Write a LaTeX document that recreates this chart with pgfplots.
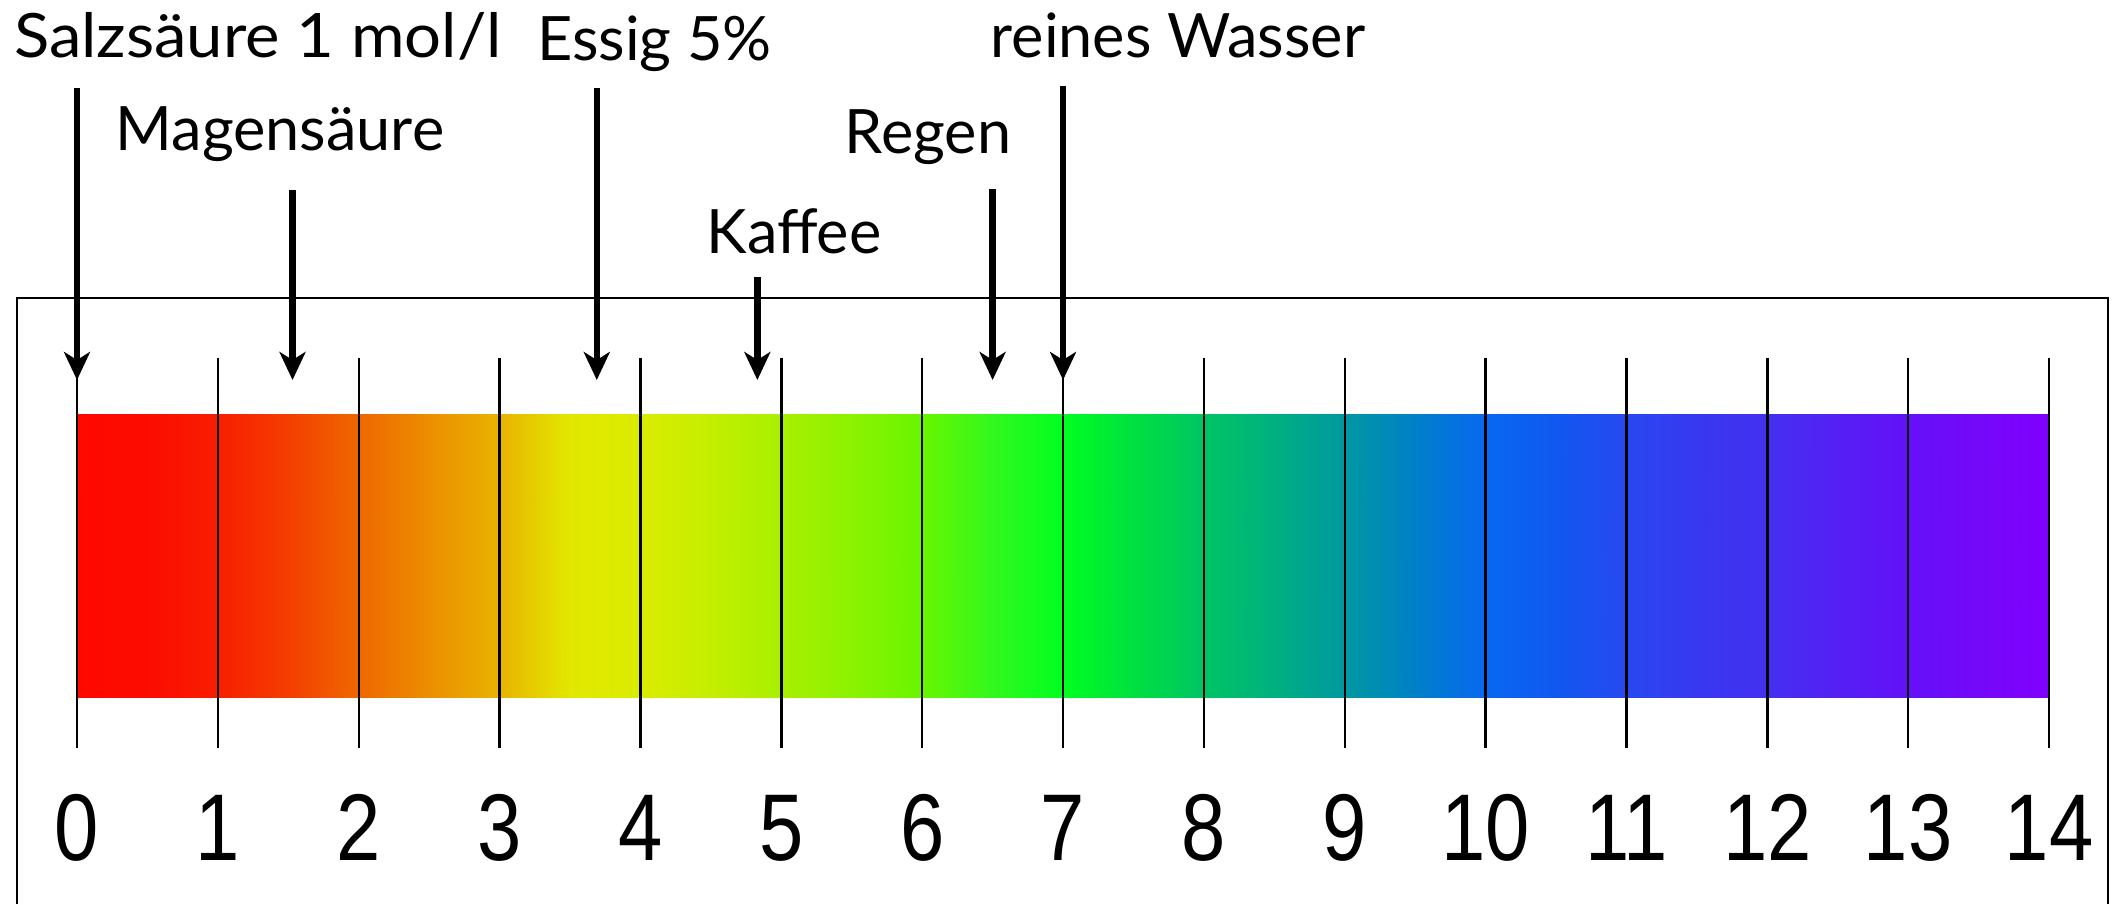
\documentclass[border=0pt]{standalone}
\usepackage{pgfplots}
\pgfplotsset{compat=1.18}
\usepackage{fontspec}
\setmainfont{Lato}
\newfontfamily\numfont{Liberation Sans}
\usetikzlibrary{arrows.meta}
\tikzset{
  lbl/.style={anchor=base, inner sep=0pt, font=\fontsize{15.3}{18}\selectfont},
  num/.style={anchor=base, inner sep=0pt, font=\numfont\fontsize{23.7}{28}\selectfont},
}

\begin{document}
\begin{tikzpicture}
\begin{axis}[
  hide axis, scale only axis,
  width=529pt, height=226pt,
  xmin=-0.5467, xmax=14.4755, ymin=0, ymax=904,
  clip=false,
  colormap={ph}{
    rgb255=(255,8,0) rgb255=(252,12,0) rgb255=(248,30,0) rgb255=(244,62,0)
    rgb255=(238,104,0) rgb255=(236,142,0) rgb255=(232,180,0) rgb255=(226,232,0)
    rgb255=(218,236,0) rgb255=(196,238,0) rgb255=(168,240,0) rgb255=(140,242,0)
    rgb255=(104,246,0) rgb255=(50,248,30) rgb255=(0,255,32) rgb255=(0,224,64)
    rgb255=(0,196,100) rgb255=(0,176,128) rgb255=(0,152,160) rgb255=(0,128,200)
    rgb255=(8,104,240) rgb255=(16,88,240) rgb255=(40,72,240) rgb255=(56,56,240)
    rgb255=(68,48,240) rgb255=(84,32,244) rgb255=(100,16,248) rgb255=(116,8,248)
    rgb255=(128,0,255)},
  point meta min=0, point meta max=14,
]
\coordinate (bl) at (rel axis cs:0,0);
\coordinate (tr) at (rel axis cs:1,1);
% colour bar
\addplot[surf, shader=interp, mesh/cols=29, point meta=\thisrow{x}] table {
x y
0 207
0.5 207
1 207
1.5 207
2 207
2.5 207
3 207
3.5 207
4 207
4.5 207
5 207
5.5 207
6 207
6.5 207
7 207
7.5 207
8 207
8.5 207
9 207
9.5 207
10 207
10.5 207
11 207
11.5 207
12 207
12.5 207
13 207
13.5 207
14 207
0 490
0.5 490
1 490
1.5 490
2 490
2.5 490
3 490
3.5 490
4 490
4.5 490
5 490
5.5 490
6 490
6.5 490
7 490
7.5 490
8 490
8.5 490
9 490
9.5 490
10 490
10.5 490
11 490
11.5 490
12 490
12.5 490
13 490
13.5 490
14 490
};
% frame
\addplot[black, line width=0.6pt] coordinates {(-0.426,0) (-0.426,606) (14.42,606) (14.42,0)};
% scale lines
\addplot[black, line width=0.6pt, unbounded coords=jump] coordinates {
(0,156) (0,546) (0,nan)
(1,156) (1,546) (1,nan)
(2,156) (2,546) (2,nan)
(3,156) (3,546) (3,nan)
(4,156) (4,546) (4,nan)
(5,156) (5,546) (5,nan)
(6,156) (6,546) (6,nan)
(7,156) (7,546) (7,nan)
(8,156) (8,546) (8,nan)
(9,156) (9,546) (9,nan)
(10,156) (10,546) (10,nan)
(11,156) (11,546) (11,nan)
(12,156) (12,546) (12,nan)
(13,156) (13,546) (13,nan)
(14,156) (14,546)
};
% arrows
\pgfplotsset{arr/.style={black, line width=1.6pt, -{Stealth[length=7pt, width=6.5pt, inset=2pt]}}}
\addplot[arr] coordinates {(0,816) (0,524)};
\addplot[arr] coordinates {(1.53,714) (1.53,524)};
\addplot[arr] coordinates {(3.69,816) (3.69,524)};
\addplot[arr] coordinates {(4.83,627) (4.83,524)};
\addplot[arr] coordinates {(6.50,715) (6.50,524)};
\addplot[arr] coordinates {(7.0,818) (7.0,524)};
% labels
\node[lbl] at (axis cs:1.285,847) {\scalebox{1.065}[1]{Salzsäure 1 mol/l}};
\node[lbl] at (axis cs:4.10,844) {Essig 5\%};
\node[lbl] at (axis cs:7.816,847) {reines Wasser};
\node[lbl] at (axis cs:1.441,754) {Magensäure};
\node[lbl] at (axis cs:6.041,751) {Regen};
\node[lbl] at (axis cs:5.09,651) {Kaffee};
% numbers
\pgfplotsinvokeforeach{0,...,14}{
  \node[num] at (axis cs:#1,44) {\scalebox{0.84}[1]{#1}};
}
\end{axis}
\pgfresetboundingbox
\path (bl) rectangle (tr);
\end{tikzpicture}
\end{document}
